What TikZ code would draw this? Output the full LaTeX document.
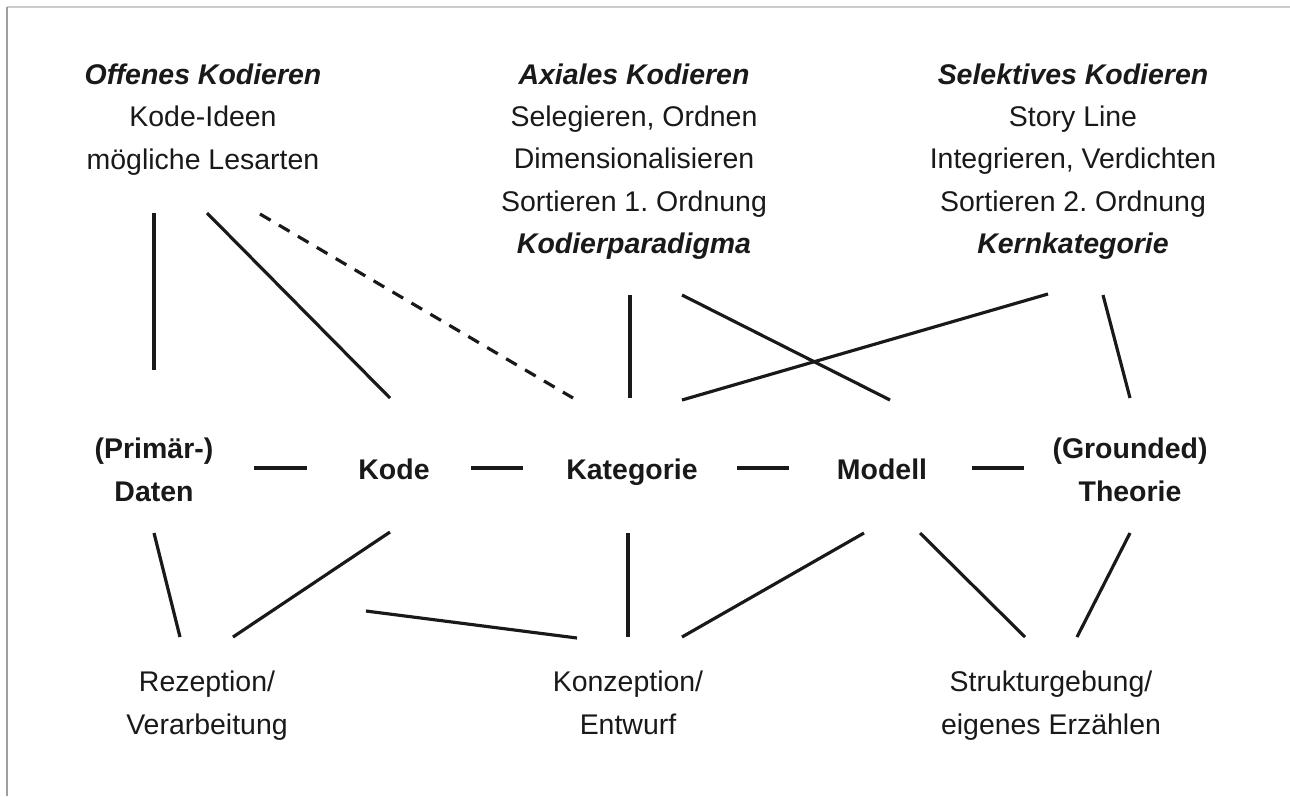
\documentclass[tikz,border=0pt]{standalone}
\usepackage{fontspec}
\setmainfont{Liberation Sans}
\usepackage{tikz}
\frenchspacing
\newcommand{\stufe}[1]{\textbf{\textit{#1}}}
\tikzset{block/.style={align=center, inner sep=0pt, font=\fontsize{16.2}{24}\selectfont}}
\tikzset{begriff/.style={block, font=\fontsize{16.2}{24}\selectfont\bfseries}}
\tikzset{verbindung/.style={line width=1.8pt, black!90}}
\tikzset{gestrichelt/.style={verbindung, dash pattern=on 7pt off 5.5pt}}

\begin{document}
\begin{tikzpicture}[x=0.02cm, y=-0.02cm]
	\useasboundingbox (0,0) rectangle (1290,796);
	\draw[gray!40, line width=0.8pt] (7,7) -- (1290,7);
	\draw[gray!75, line width=0.8pt] (7,7) -- (7,796);

	\begin{scope}[text=black!90]
		% Kodierstufen
		\node (offen) at (203,118.5) [block] {\strut\stufe{Offenes Kodieren}\\ \strut Kode-Ideen\\ \strut mögliche Lesarten};
		\node (axial) at (634,160.5) [block] {\strut\stufe{Axiales Kodieren}\\ \strut Selegieren, Ordnen\\ \strut Dimensionalisieren\\ \strut Sortieren 1. Ordnung\\ \strut\stufe{Kodierparadigma}};
		\node (selektiv) at (1073,160.5) [block] {\strut\stufe{Selektives Kodieren}\\ \strut Story Line\\ \strut Integrieren, Verdichten\\ \strut Sortieren 2. Ordnung\\ \strut\stufe{Kernkategorie}};

		% Begriffe
		\node (daten) at (154,471.5) [begriff] {\strut(Primär-)\\ \strut Daten};
		\node (kode) at (394,471.5) [begriff] {\strut Kode};
		\node (kategorie) at (632,471.5) [begriff] {\strut Kategorie};
		\node (modell) at (882,471.5) [begriff] {\strut Modell};
		\node (theorie) at (1130,471.5) [begriff] {\strut(Grounded)\\ \strut Theorie};

		% Tätigkeiten
		\node (rezeption) at (207,704.5) [block] {\strut Rezeption/\\ \strut Verarbeitung};
		\node (konzeption) at (628,704.5) [block] {\strut Konzeption/\\ \strut Entwurf};
		\node (struktur) at (1051,704.5) [block] {\strut Strukturgebung/\\ \strut eigenes Erzählen};
	\end{scope}

	% oben
	\draw[verbindung] ([shift={(-49,94.5)}]offen.center) -- ([shift={(0,-101.5)}]daten.center);
	\draw[verbindung] ([shift={(4,94.5)}]offen.center) -- ([shift={(-4,-73.5)}]kode.center);
	\draw[gestrichelt] ([shift={(57,95.5)}]offen.center) -- ([shift={(-59,-73.5)}]kategorie.center);
	\draw[verbindung] ([shift={(-4,134.5)}]axial.center) -- ([shift={(-2,-73.5)}]kategorie.center);
	\draw[verbindung] ([shift={(48,134.5)}]axial.center) -- ([shift={(8,-71.5)}]modell.center);
	\draw[verbindung] ([shift={(-25,133.5)}]selektiv.center) -- ([shift={(50,-71.5)}]kategorie.center);
	\draw[verbindung] ([shift={(30,134.5)}]selektiv.center) -- ([shift={(0,-73.5)}]theorie.center);

	% Mitte
	\draw[verbindung] ([shift={(100,-3.5)}]daten.center) -- ([shift={(-87,-3.5)}]kode.center);
	\draw[verbindung] ([shift={(77,-3.5)}]kode.center) -- ([shift={(-109,-3.5)}]kategorie.center);
	\draw[verbindung] ([shift={(105,-3.5)}]kategorie.center) -- ([shift={(-93,-3.5)}]modell.center);
	\draw[verbindung] ([shift={(90,-3.5)}]modell.center) -- ([shift={(-106,-3.5)}]theorie.center);

	% unten
	\draw[verbindung] ([shift={(0,61.5)}]daten.center) -- ([shift={(-27,-67.5)}]rezeption.center);
	\draw[verbindung] ([shift={(-4,60.5)}]kode.center) -- ([shift={(26,-67.5)}]rezeption.center);
	\draw[verbindung] ([shift={(159,-93.5)}]rezeption.center) -- ([shift={(-51,-66.5)}]konzeption.center);
	\draw[verbindung] ([shift={(-4,61.5)}]kategorie.center) -- ([shift={(0,-67.5)}]konzeption.center);
	\draw[verbindung] ([shift={(-18,61.5)}]modell.center) -- ([shift={(54,-67.5)}]konzeption.center);
	\draw[verbindung] ([shift={(38,61.5)}]modell.center) -- ([shift={(-26,-67.5)}]struktur.center);
	\draw[verbindung] ([shift={(0,61.5)}]theorie.center) -- ([shift={(26,-67.5)}]struktur.center);
\end{tikzpicture}
\end{document}
